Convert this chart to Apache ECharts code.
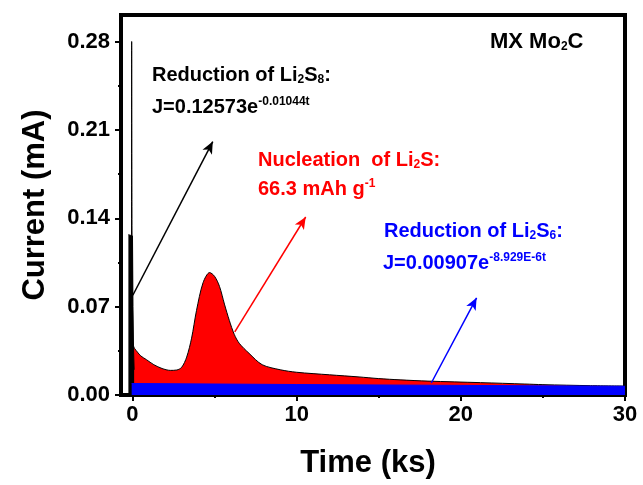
<!DOCTYPE html>
<html>
<head>
<meta charset="utf-8">
<script src="https://cdn.jsdelivr.net/npm/echarts@6/dist/echarts.min.js"></script>
<style>
  html, body { margin: 0; padding: 0; background: #fff; }
  #chart { width: 643px; height: 485px; }
</style>
</head>
<body>
<div id="chart"></div>
<script>
// Chronoamperometry on MX Mo2C: time in ks, current in mA
const measuredTime = [-0.06, -0.05, -0.03, 0.02, 0.06, 0.12, 0.3, 0.5, 0.85, 1.3, 1.8, 2.3, 2.7, 3.0, 3.3, 3.6, 3.9, 4.3, 4.7, 5.0, 5.3, 5.6, 5.9, 6.2, 6.5, 7.1, 7.9, 9.0, 10.0, 12.0, 13.8, 15.0, 16.3, 18.0, 21.2, 23.9, 25.0, 27.9, 30.0];
const measuredCurrent = [0.0, 0.28, 0.13, 0.045, 0.039, 0.037, 0.034, 0.031, 0.028, 0.024, 0.021, 0.0195, 0.0198, 0.022, 0.030, 0.045, 0.067, 0.089, 0.097, 0.094, 0.086, 0.072, 0.059, 0.048, 0.041, 0.033, 0.024, 0.020, 0.018, 0.016, 0.0143, 0.013, 0.012, 0.011, 0.0098, 0.0087, 0.0082, 0.0074, 0.0071];

// Li2S8 reduction (fast decay right after the potential step)
const li2s8Time = [-0.25, 0.0, 0.03, 0.06, 0.1];
const li2s8Current = [0.127, 0.126, 0.07, 0.038, 0.02];

// Li2S6 reduction (slow decay across the whole run)
const li2s6Time = [-0.05, 10, 20, 30];
const li2s6Current = [0.0091, 0.0083, 0.0076, 0.0069];

// axis ticks
const xMajorTicks = [0, 10, 20, 30];
const xMinorTicks = [5, 15, 25];
const yMajorTicks = [0, 0.07, 0.14, 0.21, 0.28];
const yMinorTicks = [0.035, 0.105, 0.175, 0.245];

// annotation arrows: [tStart, jStart, tEnd, jEnd]
const arrowLi2S8 = [0.02, 0.079, 4.89, 0.2007];
const arrowNucleation = [6.23, 0.050, 10.55, 0.141];
const arrowLi2S6 = [18.2, 0.0095, 20.96, 0.077];

const FONT = '"Liberation Sans", Arial, sans-serif';

const pairs = (xs, ys) => xs.map((x, i) => [x, ys[i]]);

function rich(color, size) {
  return {
    m: { fontSize: size, fontWeight: 'bold', fontFamily: FONT, color: color, lineHeight: 22 },
    s: { fontSize: 12, fontWeight: 'bold', fontFamily: FONT, color: color, lineHeight: 6, verticalAlign: 'bottom' },
    p: { fontSize: 12, fontWeight: 'bold', fontFamily: FONT, color: color, lineHeight: 12, verticalAlign: 'top' }
  };
}

function label(text, x, y, color, size) {
  return {
    type: 'text', x: x, y: y, silent: true, z: 100,
    style: { text: text, rich: rich(color, size || 20), align: 'left', verticalAlign: 'middle', fill: color }
  };
}

function arrow(a, color) {
  return [
    { coord: [a[0], a[1]], lineStyle: { color: color, width: 1.5, type: 'solid' } },
    { coord: [a[2], a[3]] }
  ];
}

const chart = echarts.init(document.getElementById('chart'), null, { renderer: 'canvas' });

const axisLabelStyle = { fontFamily: FONT, fontWeight: 'bold', fontSize: 22, color: '#000' };

chart.setOption({
  animation: false,
  backgroundColor: '#fff',
  grid: {
    left: 121, right: 18, top: 15, bottom: 90,
    show: true, borderColor: '#000', borderWidth: 4, backgroundColor: 'transparent'
  },
  xAxis: [{
    type: 'value', min: -0.7, max: 30,
    axisLine: { show: true, onZero: false, lineStyle: { color: '#000', width: 4 } },
    axisTick: { show: true, inside: false, length: 6, lineStyle: { color: '#000', width: 2 }, customValues: xMajorTicks },
    axisLabel: { show: true, margin: 9, customValues: xMajorTicks, formatter: v => String(v), ...axisLabelStyle },
    splitLine: { show: false },
    name: 'Time (ks)', nameLocation: 'middle', nameGap: 53,
    nameTextStyle: { fontFamily: FONT, fontWeight: 'bold', fontSize: 31, color: '#000', padding: [0, 10, 0, 0] }
  }, {
    type: 'value', min: -0.7, max: 30, position: 'bottom',
    axisLine: { show: false, onZero: false },
    axisTick: { show: true, inside: false, length: 3, lineStyle: { color: '#000', width: 2 }, customValues: xMinorTicks },
    axisLabel: { show: false },
    splitLine: { show: false }
  }],
  yAxis: [{
    type: 'value', min: 0, max: 0.301,
    axisLine: { show: true, onZero: false, lineStyle: { color: '#000', width: 4 } },
    axisTick: { show: true, inside: false, length: 6, lineStyle: { color: '#000', width: 2 }, customValues: yMajorTicks },
    axisLabel: { show: true, margin: 11, customValues: yMajorTicks, formatter: v => v.toFixed(2), ...axisLabelStyle },
    splitLine: { show: false },
    name: 'Current (mA)', nameLocation: 'middle', nameGap: 70, nameRotate: 90,
    nameTextStyle: { fontFamily: FONT, fontWeight: 'bold', fontSize: 31, color: '#000' }
  }, {
    type: 'value', min: 0, max: 0.301, position: 'left',
    axisLine: { show: false, onZero: false },
    axisTick: { show: true, inside: false, length: 3, lineStyle: { color: '#000', width: 2 }, customValues: yMinorTicks },
    axisLabel: { show: false },
    splitLine: { show: false }
  }],
  series: [{
    name: 'measured',
    type: 'line', xAxisIndex: 0, yAxisIndex: 0,
    data: pairs(measuredTime, measuredCurrent),
    showSymbol: false, symbol: 'none', smooth: 0.3,
    lineStyle: { color: '#000', width: 1 },
    areaStyle: { color: '#ff0000', opacity: 1, origin: 'start' },
    z: 2,
    markLine: {
      silent: true, animation: false,
      symbol: ['none', 'arrow'], symbolSize: [8, 12],
      label: { show: false },
      data: [
        arrow(arrowLi2S8, '#000'),
        arrow(arrowNucleation, '#ff0000'),
        arrow(arrowLi2S6, '#0000ff')
      ]
    }
  }, {
    name: 'Li2S8',
    type: 'line', xAxisIndex: 0, yAxisIndex: 0,
    data: pairs(li2s8Time, li2s8Current),
    showSymbol: false, symbol: 'none',
    lineStyle: { color: '#000', width: 1 },
    areaStyle: { color: '#000', opacity: 1, origin: 'start' },
    z: 3
  }, {
    name: 'Li2S6',
    type: 'line', xAxisIndex: 0, yAxisIndex: 0,
    data: pairs(li2s6Time, li2s6Current),
    showSymbol: false, symbol: 'none',
    lineStyle: { color: '#0000ff', width: 1 },
    areaStyle: { color: '#0000ff', opacity: 1, origin: 'start' },
    z: 4
  }],
  graphic: [
    label('{m|MX Mo}{s|2}{m|C}', 490, 42, '#000', 22),
    label('{m|Reduction of Li}{s|2}{m|S}{s|8}{m|:}', 152, 75, '#000'),
    label('{m|J=0.12573e}{p|-0.01044t}', 152, 107, '#000'),
    label('{m|Nucleation  of Li}{s|2}{m|S:}', 258, 160, '#ff0000'),
    label('{m|66.3 mAh g}{p|-1}', 258, 189, '#ff0000'),
    label('{m|Reduction of Li}{s|2}{m|S}{s|6}{m|:}', 384, 231, '#0000ff'),
    label('{m|J=0.00907e}{p|-8.929E-6t}', 383, 263, '#0000ff')
  ]
});
</script>
</body>
</html>
